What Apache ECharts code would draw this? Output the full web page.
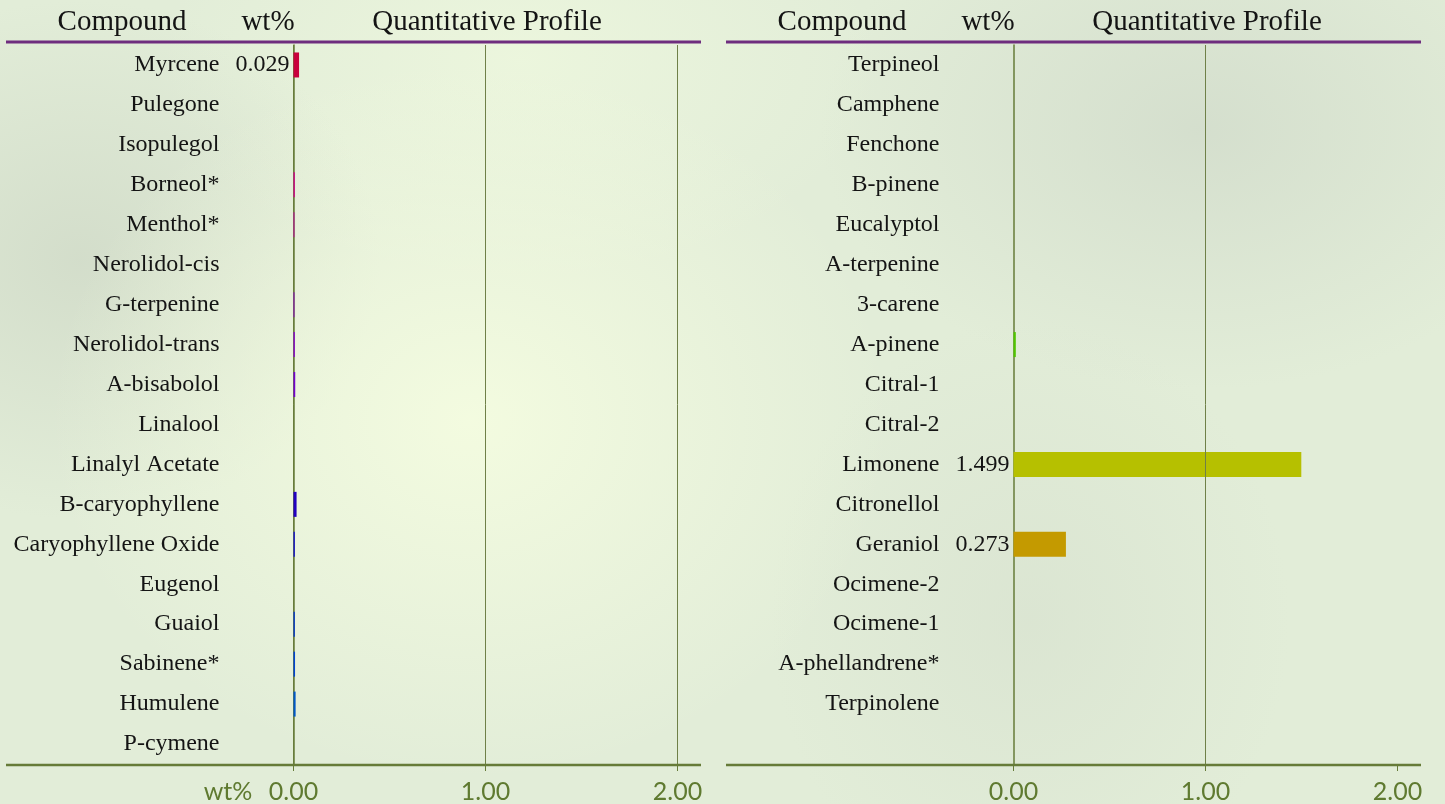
<!DOCTYPE html>
<html>
<head>
<meta charset="utf-8">
<script src="https://cdn.jsdelivr.net/npm/echarts@6/dist/echarts.min.js"></script>
<style>
html,body{margin:0;padding:0;width:1445px;height:804px;overflow:hidden;}
body{
background:
radial-gradient(ellipse 420px 360px at 470px 420px, rgba(244,252,224,0.95), rgba(244,252,224,0) 100%),
radial-gradient(ellipse 380px 260px at 1200px 130px, rgba(208,218,202,0.75), rgba(208,218,202,0) 100%),
radial-gradient(ellipse 300px 260px at 80px 260px, rgba(206,216,198,0.75), rgba(206,216,198,0) 100%),
radial-gradient(ellipse 260px 300px at 1030px 620px, rgba(214,224,206,0.6), rgba(214,224,206,0) 100%),
radial-gradient(ellipse 360px 220px at 520px 60px, rgba(238,248,222,0.8), rgba(238,248,222,0) 100%),
#e2edd8;
}
#chart{width:1445px;height:804px;}
</style>
</head>
<body>
<div id="chart"></div>
<script>
// ---- data ----
const leftCompounds = ['Myrcene','Pulegone','Isopulegol','Borneol*','Menthol*','Nerolidol-cis','G-terpenine','Nerolidol-trans','A-bisabolol','Linalool','Linalyl Acetate','B-caryophyllene','Caryophyllene Oxide','Eugenol','Guaiol','Sabinene*','Humulene','P-cymene'];
const leftValues = [0.029,0,0,0.007,0.005,0,0.005,0.007,0.009,0,0,0.016,0.007,0,0.007,0.008,0.011,0];
const leftColors = ['#c8003c','#cc0050','#cc0064','#d4008c','#c800a8','#b400c0','#9000d0','#8a00d4','#7400d0','#5a00c8','#3c00c8','#2200c0','#1410d4','#0a20d0','#0036d0','#0044d4','#0058c8','#0070c0'];

const rightCompounds = ['Terpineol','Camphene','Fenchone','B-pinene','Eucalyptol','A-terpenine','3-carene','A-pinene','Citral-1','Citral-2','Limonene','Citronellol','Geraniol','Ocimene-2','Ocimene-1','A-phellandrene*','Terpinolene',''];
const rightValues = [0,0,0,0,0,0,0,0.012,0,0,1.499,0,0.273,0,0,0,0,null];
const rightColors = ['#0088b0','#0098a0','#00a890','#00b078','#00b860','#10bc40','#30c020','#50c400','#70c400','#90c200','#b6c000','#c4b000','#c49a00','#c48a00','#c47800','#c46400','#c45000','#c44000'];

const xTickValues = [0, 1, 2];
const headerTexts = ['Compound', 'wt%', 'Quantitative Profile'];

// ---- styles ----
const OLIVE = '#667b38';
const SERIF = 'Liberation Serif, Times New Roman, serif';
const SANS = 'Lato, Open Sans, sans-serif';

function items(vals, cols) {
  return vals.map((v, i) => ({
    value: v,
    itemStyle: { color: cols[i] },
    label: { show: v != null && v >= 0.02 }
  }));
}

function xAxisFor(gridIndex, showSplit) {
  return {
    type: 'value', gridIndex: gridIndex, min: xTickValues[0], max: xTickValues[xTickValues.length - 1], interval: 1,
    axisLine: { show: false },
    axisTick: { show: true, length: 7, lineStyle: { color: OLIVE, width: 1 } },
    axisLabel: { margin: 15, fontFamily: SANS, fontSize: 25, color: '#5f7a30', formatter: v => v.toFixed(2) },
    splitLine: { show: showSplit, lineStyle: { color: '#6f8048', width: 1 } }
  };
}
function yAxisFor(gridIndex, cats) {
  return {
    type: 'category', gridIndex: gridIndex, data: cats, inverse: true,
    axisLine: { show: true, lineStyle: { color: OLIVE, width: 1.5 } },
    axisTick: { show: false },
    axisLabel: { margin: 74, fontFamily: SERIF, fontSize: 24, color: '#141414' },
    splitLine: { show: false }
  };
}
function barSeries(idx, vals, cols, extra) {
  return Object.assign({
    type: 'bar', xAxisIndex: idx, yAxisIndex: idx, barWidth: 25,
    data: items(vals, cols),
    label: { position: 'left', distance: 4, fontFamily: SERIF, fontSize: 24, color: '#141414', formatter: p => Number(p.value).toFixed(3) },
    emphasis: { disabled: true }, animation: false
  }, extra || {});
}

const panelOffsets = [0, 720];
const graphics = [];
panelOffsets.forEach(off => {
  graphics.push({ type: 'line', shape: { x1: 6 + off, y1: 42, x2: 701 + off, y2: 42 }, style: { stroke: '#6e2d7e', lineWidth: 3 }, z: 10 });
  graphics.push({ type: 'line', shape: { x1: 6 + off, y1: 765, x2: 701 + off, y2: 765 }, style: { stroke: OLIVE, lineWidth: 2.5 }, z: 10 });
  const hx = [122, 268, 487];
  headerTexts.forEach((t, i) => {
    graphics.push({ type: 'text', x: hx[i] + off, y: 22, style: { text: t, font: '29px ' + SERIF, fill: '#141414', align: 'center', verticalAlign: 'middle' }, z: 10 });
  });
});
graphics.push({ type: 'text', x: 228, y: 792, style: { text: 'wt%', font: '25px ' + SANS, fill: '#5f7a30', align: 'center', verticalAlign: 'middle' }, z: 10 });

const chart = echarts.init(document.getElementById('chart'), null, { renderer: 'canvas' });
chart.setOption({
  backgroundColor: 'transparent',
  animation: false,
  grid: [
    { left: 293.5, top: 45, width: 384, height: 720 },
    { left: 1013.5, top: 45, width: 384, height: 720 }
  ],
  xAxis: [xAxisFor(0, true), xAxisFor(1, false)],
  yAxis: [yAxisFor(0, leftCompounds), yAxisFor(1, rightCompounds)],
  series: [
    barSeries(0, leftValues, leftColors),
    barSeries(1, rightValues, rightColors, {
      markLine: { silent: true, symbol: 'none', label: { show: false }, lineStyle: { color: '#6f8048', width: 1, type: 'solid' }, data: [{ xAxis: xTickValues[1] }], animation: false }
    })
  ],
  graphic: graphics
});
</script>
</body>
</html>
